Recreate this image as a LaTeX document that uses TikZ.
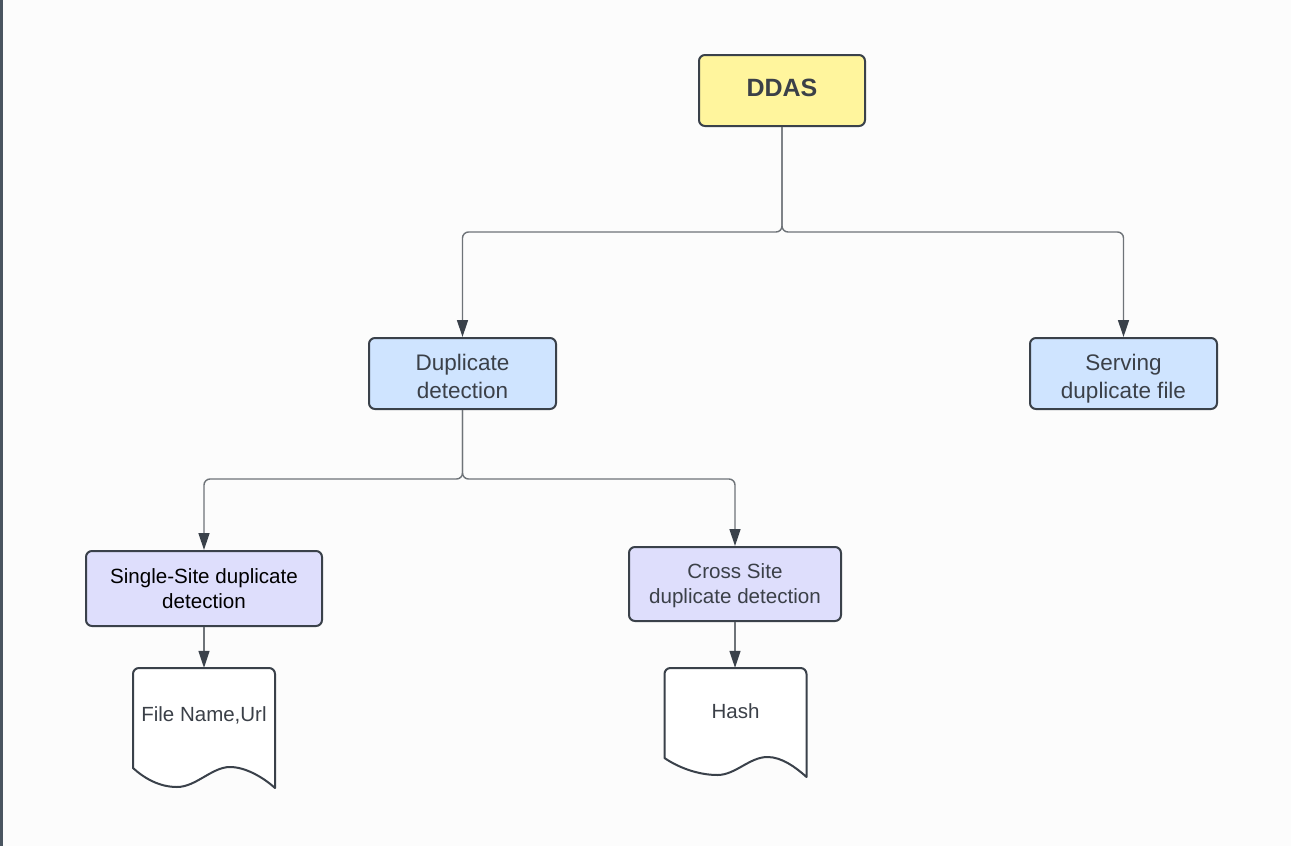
\documentclass[tikz,border=0pt]{standalone}
\usepackage{fontspec}
\setmainfont{Liberation Sans}
\usetikzlibrary{arrows.meta}
\definecolor{bgc}{HTML}{FCFCFC}
\definecolor{edgec}{HTML}{3A414A}
\definecolor{txtc}{HTML}{3B4048}
\definecolor{linec}{HTML}{6E7378}
\definecolor{yel}{HTML}{FFF59D}
\definecolor{blu}{HTML}{CFE4FF}
\definecolor{lav}{HTML}{DEDEFC}
\definecolor{barc}{HTML}{4A5560}
\newcommand{\twolines}[3]{\raisebox{#1}[0pt][0pt]{\begin{tabular}{@{}c@{}}#2\\#3\end{tabular}}}
\tikzset{
  boxbase/.style={draw=edgec, line width=2pt, rounded corners=6pt, align=center, inner sep=0pt, text=txtc},
  rootbox/.style={boxbase, fill=yel, minimum width=166pt, minimum height=71pt, font=\bfseries\fontsize{25}{30}\selectfont},
  midbox/.style={boxbase, fill=blu, minimum width=187pt, minimum height=71pt, font=\fontsize{22.5}{28}\selectfont},
  lowbox/.style={boxbase, fill=lav, font=\fontsize{20.6}{25}\selectfont},
  doctext/.style={inner sep=0pt, minimum width=142pt, text=txtc, font=\fontsize{20.5}{25}\selectfont},
  docshape/.style={draw=edgec, line width=2pt, fill=white, line join=round},
  conn/.style={draw=linec, line width=1.4pt, rounded corners=6pt, -{Triangle[length=17pt,width=11pt,color=edgec]}},
}
\begin{document}
\begin{tikzpicture}[x=1pt,y=-1pt]
\fill[bgc] (0,0) rectangle (1291,846);
\useasboundingbox (0,0) rectangle (1291,846);
\fill[barc] (0,0) rectangle (2.5,846);

\node[rootbox] (ddas) at (782,90.5) {\raisebox{-5.5pt}[0pt][0pt]{DDAS}};
\node[midbox] (dup) at (462.5,373.5) {\twolines{-10.6pt}{Duplicate}{detection}};
\node[midbox] (serv) at (1123.5,373.5) {\twolines{-10.6pt}{Serving}{duplicate file}};
\node[lowbox, minimum width=236pt, minimum height=75pt, text=black] (single) at (204,588.5) {Single-Site duplicate\\detection};
\node[lowbox, minimum width=212pt, minimum height=74pt] (cross) at (735,584) {\twolines{-7pt}{Cross Site}{duplicate detection}};

% document shapes
\coordinate (d1) at (204,718);
\coordinate (d2) at (735.5,713);
\begin{scope}[shift={(d1)}]
\draw[docshape] (-71,50) -- (-71,-44) arc[start angle=180,end angle=270,radius=6] -- (65,-50) arc[start angle=270,end angle=360,radius=6] -- (71,70)
  .. controls (60,60) and (42,49) .. (26,49)
  .. controls (8,49) and (-8,69) .. (-27,69)
  .. controls (-45,69) and (-60,60) .. (-71,50) -- cycle;
\end{scope}
\begin{scope}[shift={(d2)}]
\draw[docshape] (-71,45) -- (-71,-39) arc[start angle=180,end angle=270,radius=6] -- (65,-45) arc[start angle=270,end angle=360,radius=6] -- (71,64)
  .. controls (60,54) and (46,44) .. (32,44)
  .. controls (14,44) and (0,62) .. (-18,62)
  .. controls (-38,62) and (-58,54) .. (-71,45) -- cycle;
\end{scope}
\node[doctext, minimum height=100pt] (doc1) at (d1) {};
\node[doctext, minimum height=90pt] (doc2) at (d2) {};
\node[doctext] (t1) at (204,715) {File Name,Url};
\node[doctext] (t2) at (735.5,711) {Hash};

% junctions
\coordinate (j1) at (782,232);
\coordinate (j2) at (462.5,479);

\draw[conn] (ddas.south) -- (j1) -| (dup.north);
\draw[conn] (ddas.south) -- (j1) -| (serv.north);
\draw[conn] (dup.south) -- (j2) -| (single.north);
\draw[conn] (dup.south) -- (j2) -| (cross.north);
\draw[conn] (single.south) -- (doc1.north);
\draw[conn] (cross.south) -- (cross.south |- doc2.north);
\end{tikzpicture}
\end{document}
